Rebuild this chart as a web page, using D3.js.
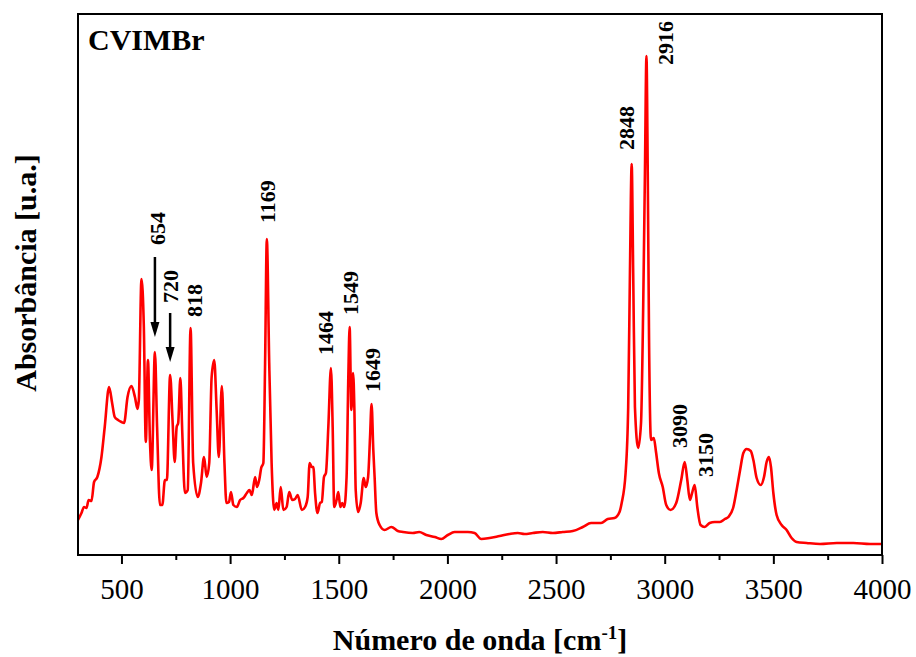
<!DOCTYPE html>
<html>
<head>
<meta charset="utf-8">
<script src="https://cdn.jsdelivr.net/npm/d3@7"></script>
<style>
    body { margin: 0; background: #fff; }
    svg text { font-family: "Liberation Serif", "Times New Roman", serif; }
    .tick line { stroke: #000; stroke-width: 2; }
    .domain { display: none; }
</style>
</head>
<body>
<div class="wrapper-svg"></div>
<script>
// FTIR spectrum of CVIMBr
var wavenumber = [300, 316, 328, 339, 349, 362, 374, 389, 408, 423, 443, 457, 469, 484, 500, 512, 528, 546, 562, 574, 580, 592, 603, 612, 622, 631, 639, 654, 664, 677, 688, 700, 709, 724, 735, 745, 754, 761, 771, 780, 792, 805, 818, 830, 851, 866, 880, 892, 904, 915, 927, 938, 948, 962, 974, 983, 995, 1004, 1015, 1031, 1046, 1061, 1077, 1089, 1100, 1115, 1124, 1134, 1143, 1153, 1161, 1169, 1180, 1191, 1203, 1214, 1222, 1233, 1245, 1260, 1272, 1286, 1299, 1311, 1330, 1345, 1357, 1366, 1376, 1383, 1391, 1402, 1414, 1422, 1432, 1441, 1452, 1464, 1472, 1479, 1490, 1498, 1507, 1516, 1525, 1536, 1544, 1550, 1558, 1566, 1572, 1578, 1589, 1601, 1615, 1624, 1635, 1644, 1651, 1659, 1665, 1673, 1688, 1711, 1742, 1772, 1796, 1841, 1870, 1903, 1942, 1972, 2002, 2033, 2064, 2094, 2125, 2156, 2194, 2240, 2285, 2324, 2355, 2393, 2439, 2485, 2531, 2577, 2623, 2661, 2707, 2738, 2769, 2792, 2802, 2820, 2832, 2840, 2848, 2855, 2863, 2878, 2891, 2901, 2909, 2916, 2922, 2928, 2937, 2950, 2960, 2973, 2991, 3007, 3027, 3053, 3076, 3092, 3104, 3116, 3126, 3138, 3150, 3165, 3184, 3207, 3230, 3254, 3277, 3293, 3316, 3331, 3347, 3362, 3377, 3396, 3408, 3423, 3442, 3457, 3469, 3480, 3489, 3500, 3515, 3538, 3561, 3584, 3607, 3653, 3715, 3792, 3868, 3945, 4000];
var absorbance = [0.35, 0.42, 0.48, 0.47, 0.55, 0.54, 0.73, 0.78, 0.98, 1.28, 1.68, 1.52, 1.38, 1.35, 1.33, 1.32, 1.58, 1.69, 1.58, 1.46, 1.55, 2.76, 2.28, 1.13, 1.95, 1.15, 0.85, 2.03, 1.28, 0.50, 0.50, 0.75, 0.75, 1.80, 1.35, 0.93, 1.28, 1.32, 1.77, 1.22, 0.62, 0.65, 2.27, 0.92, 0.58, 0.72, 0.98, 0.78, 0.92, 1.78, 1.95, 1.45, 0.98, 1.69, 0.92, 0.52, 0.53, 0.63, 0.50, 0.48, 0.55, 0.57, 0.62, 0.65, 0.60, 0.78, 0.68, 0.75, 0.87, 0.92, 1.92, 3.16, 1.92, 0.92, 0.45, 0.52, 0.45, 0.68, 0.45, 0.48, 0.63, 0.55, 0.56, 0.60, 0.45, 0.48, 0.58, 0.92, 0.88, 0.88, 0.62, 0.42, 0.52, 0.53, 0.78, 0.82, 1.28, 1.87, 1.28, 0.48, 0.55, 0.63, 0.48, 0.52, 0.48, 0.78, 1.78, 2.28, 1.45, 1.82, 1.45, 0.65, 0.43, 0.52, 0.77, 0.68, 0.78, 1.18, 1.51, 1.05, 0.78, 0.42, 0.30, 0.25, 0.28, 0.24, 0.23, 0.22, 0.23, 0.20, 0.18, 0.16, 0.20, 0.23, 0.23, 0.23, 0.22, 0.16, 0.17, 0.19, 0.21, 0.22, 0.21, 0.22, 0.23, 0.22, 0.23, 0.24, 0.28, 0.32, 0.32, 0.36, 0.37, 0.43, 0.52, 0.82, 1.48, 2.82, 3.91, 2.82, 1.48, 1.07, 1.32, 2.48, 3.82, 4.99, 3.82, 2.15, 1.15, 1.17, 1.03, 0.82, 0.68, 0.50, 0.45, 0.52, 0.75, 0.93, 0.75, 0.55, 0.62, 0.70, 0.48, 0.30, 0.28, 0.32, 0.33, 0.33, 0.36, 0.38, 0.48, 0.65, 0.85, 1.02, 1.06, 1.04, 0.95, 0.77, 0.70, 0.78, 0.93, 0.98, 0.88, 0.62, 0.40, 0.30, 0.25, 0.17, 0.13, 0.12, 0.11, 0.12, 0.12, 0.11, 0.11];

var majorTicks = [500, 1000, 1500, 2000, 2500, 3000, 3500, 4000];
var minorTicks = [750, 1250, 1750, 2250, 2750, 3250, 3750];

// peak labels and where the peak sits in the data
var peakLabels = ['654', '720', '818', '1169', '1464', '1549', '1649', '2848', '2916', '3090', '3150'];
var peakWavenumbers = [654, 724, 818, 1169, 1464, 1550, 1651, 2848, 2916, 3092, 3138];

var serif = '"Liberation Serif", "Times New Roman", serif';

var svg = d3.select('.wrapper-svg')
    .append('svg')
    .attr('width', 916)
    .attr('height', 657);

var x = d3.scaleLinear().domain([300, 4000]).range([78, 882]);
var y = d3.scaleLinear().domain([0, 5.41]).range([555, 14]);

var data = wavenumber.map(function(w, i) { return {w: w, a: absorbance[i]}; });

//spectrum ------------------------------------------
var line = d3.line()
    .x(function(d) { return x(d.w); })
    .y(function(d) { return y(d.a); })
    .curve(d3.curveMonotoneX);

svg.append('path')
    .datum(data)
    .attr('d', line)
    .attr('fill', 'none')
    .attr('stroke', '#ff0000')
    .attr('stroke-width', 2.6)
    .attr('stroke-linejoin', 'round');

//axis ------------------------------------------
svg.append('g')
    .attr('transform', 'translate(0,555)')
    .call(d3.axisBottom(x).tickValues(majorTicks).tickSize(9).tickPadding(14).tickFormat(d3.format('d')))
    .attr('font-family', serif)
    .attr('font-size', 29)
    .selectAll('text')
    .attr('fill', '#000');

svg.append('g')
    .attr('transform', 'translate(0,555)')
    .call(d3.axisBottom(x).tickValues(minorTicks).tickSize(5).tickFormat(''));

svg.append('rect')
    .attr('x', x.range()[0])
    .attr('y', y.range()[1])
    .attr('width', x.range()[1] - x.range()[0])
    .attr('height', y.range()[0] - y.range()[1])
    .attr('fill', 'none')
    .attr('stroke', '#000')
    .attr('stroke-width', 2);

//titles ------------------------------------------
var xTitle = svg.append('text')
    .attr('x', 480)
    .attr('y', 650)
    .attr('text-anchor', 'middle')
    .style('font-size', '30px')
    .style('font-weight', 'bold')
    .text('Número de onda [cm');
xTitle.append('tspan')
    .attr('dy', -11)
    .style('font-size', '19px')
    .text('-1');
xTitle.append('tspan')
    .attr('dy', 11)
    .text(']');

svg.append('text')
    .attr('transform', 'translate(36,273) rotate(-90)')
    .attr('text-anchor', 'middle')
    .style('font-size', '30px')
    .style('font-weight', 'bold')
    .text('Absorbância [u.a.]');

svg.append('text')
    .attr('x', 88)
    .attr('y', 50)
    .style('font-size', '30px')
    .style('font-weight', 'bold')
    .text('CVIMBr');

//peak labels ------------------------------------------
// offsets of each label from its peak: dx to the right, dy above
var labelOffset = {
    '654': [10, 0], '720': [8, 0], '818': [11, 11], '1169': [8, 16], '1464': [2, 13],
    '1549': [8, 12], '1649': [8, 12], '2848': [2, 14], '2916': [27, -9], '3090': [2, 14], '3150': [18, 8]
};
// arrows for the two crowded peaks: gap above peak, arrow length
var arrows = {'654': [15, 80], '720': [13, 49]};

function peakHeight(w) {
    return d3.max(data.filter(function(d) { return Math.abs(d.w - w) <= 3; }), function(d) { return d.a; });
}

peakLabels.forEach(function(label, i) {
    var w = peakWavenumbers[i];
    var px = x(w);
    var py = y(peakHeight(w));
    var off = labelOffset[label];
    var startY = py - off[1];

    if (arrows[label]) {
        var tip = py - arrows[label][0];
        var top = tip - arrows[label][1];
        svg.append('line')
            .attr('x1', px).attr('x2', px)
            .attr('y1', top).attr('y2', tip - 10)
            .attr('stroke', '#000')
            .attr('stroke-width', 2.5);
        svg.append('polygon')
            .attr('points', (px - 4.5) + ',' + (tip - 15) + ' ' + (px + 4.5) + ',' + (tip - 15) + ' ' + px + ',' + tip)
            .attr('fill', '#000');
        startY = top - (label == '654' ? 12 : 10);
    }

    svg.append('text')
        .attr('transform', 'translate(' + (px + off[0]) + ',' + startY + ') rotate(-90)')
        .style('font-size', '22px')
        .style('font-weight', 'bold')
        .text(label);
});
</script>
</body>
</html>
